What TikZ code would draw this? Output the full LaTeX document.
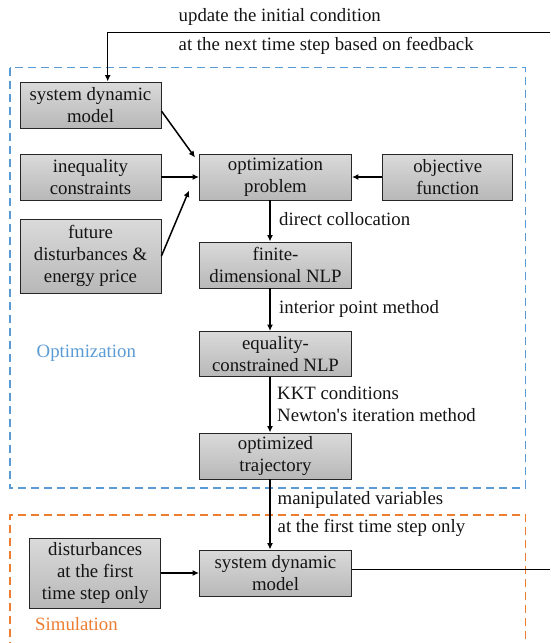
\documentclass[tikz,border=0pt]{standalone}
\usepackage{fontspec}
\setmainfont{Liberation Serif}
\newfontfamily\serf{Liberation Serif}
\usetikzlibrary{arrows.meta,calc}
\definecolor{boxtop}{RGB}{218,218,218}
\definecolor{boxbot}{RGB}{184,184,184}
\definecolor{optblue}{RGB}{91,155,213}
\definecolor{simorange}{RGB}{237,125,49}
\definecolor{txt}{RGB}{20,20,20}
\begin{document}
\begin{tikzpicture}[x=1pt,y=-1pt,
  every node/.style={font=\serf\fontsize{18.8}{22.4}\selectfont, text=txt},
  blk/.style={draw=black!85, line width=0.9pt, top color=boxtop, bottom color=boxbot,
    align=center, inner sep=0pt, minimum height=46pt},
  lbl/.style={anchor=west, inner sep=0pt, text height=13pt, text depth=4pt},
  arr/.style={line width=1.5pt, -{Latex[length=6.5pt,width=6pt]}},
  ln/.style={line width=1.5pt},
  zone/.style={line width=1.8pt, dash pattern=on 8pt off 5pt}]
\useasboundingbox (0,0) rectangle (550,643);

% zones
\draw[zone, optblue] (9.7,67.5) rectangle (525.5,488);
\draw[zone, simorange] (9.7,650) -- (9.7,515) -- (525.5,515) -- (525.5,650);
\node[lbl, text=optblue] (optlbl) at (36.5,353) {Optimization};
\node[lbl, text=simorange] (simlbl) at (35,626) {Simulation};

% blocks
\node[blk, minimum width=141pt] (sdm1) at (90.5,105) {system dynamic\\model};
\node[blk, minimum width=141pt] (ineq) at (90.5,177) {inequality\\constraints};
\node[blk, minimum width=141pt, minimum height=74pt] (fut) at (90.5,256) {future\\disturbances \&\\energy price};
\node[blk, minimum width=152pt] (opt) at (275.5,177) {optimization\\problem};
\node[blk, minimum width=130pt] (obj) at (447.7,177) {objective\\function};
\node[blk, minimum width=152pt] (fin) at (275.5,265) {finite-\\dimensional NLP};
\node[blk, minimum width=152pt, minimum height=45pt] (eq) at (275.5,354) {equality-\\constrained NLP};
\node[blk, minimum width=152pt] (traj) at (275.5,456) {optimized\\trajectory};
\node[blk, minimum width=131pt, minimum height=70pt] (dist) at (95.2,573) {disturbances\\at the first\\time step only};
\node[blk, minimum width=152pt] (sdm2) at (275.5,573) {system dynamic\\model};

% feedback
\coordinate (fbR) at (550,32.3);
\coordinate (outR) at (550,569.5);
\draw[arr] (fbR) -| ([xshift=17.2pt]sdm1.north);
\node[lbl] (fb1) at (178.5,16.7) {update the initial condition};
\node[lbl] (fb2) at (178.5,46) {at the next time step based on feedback};

% inputs to optimization problem
\draw[arr] ([yshift=-6pt]sdm1.east) -- ([xshift=-4pt,yshift=-4pt]opt.north west);
\draw[arr] (ineq.east) -- (opt.west);
\draw[arr] (fut.east) -- ([xshift=-10pt,yshift=10pt]opt.south west);
\draw[arr] (obj.west) -- (opt.east);

% chain
\draw[arr] ([xshift=-5.5pt]opt.south) -- ([xshift=-5.5pt]fin.north);
\node[lbl] (l1) at (279,221) {direct collocation};
\draw[arr] ([xshift=-5.5pt]fin.south) -- ([xshift=-5.5pt]eq.north);
\node[lbl] (l2) at (279,309) {interior point method};
\draw[arr] ([xshift=-5.5pt]eq.south) -- ([xshift=-5.5pt]traj.north);
\node[lbl] (l3) at (277,395) {KKT conditions};
\node[lbl] (l4) at (277,416.7) {Newton's iteration method};
\draw[arr] ([xshift=-5.5pt]traj.south) -- ([xshift=-5.5pt]sdm2.north);
\node[lbl] (l5) at (277.5,500) {manipulated variables};
\node[lbl] (l6) at (277.5,528) {at the first time step only};

% simulation
\draw[arr] (dist.east) -- (sdm2.west);
\draw[ln] ([yshift=3.5pt]sdm2.east) -- (outR);
\end{tikzpicture}
\end{document}
